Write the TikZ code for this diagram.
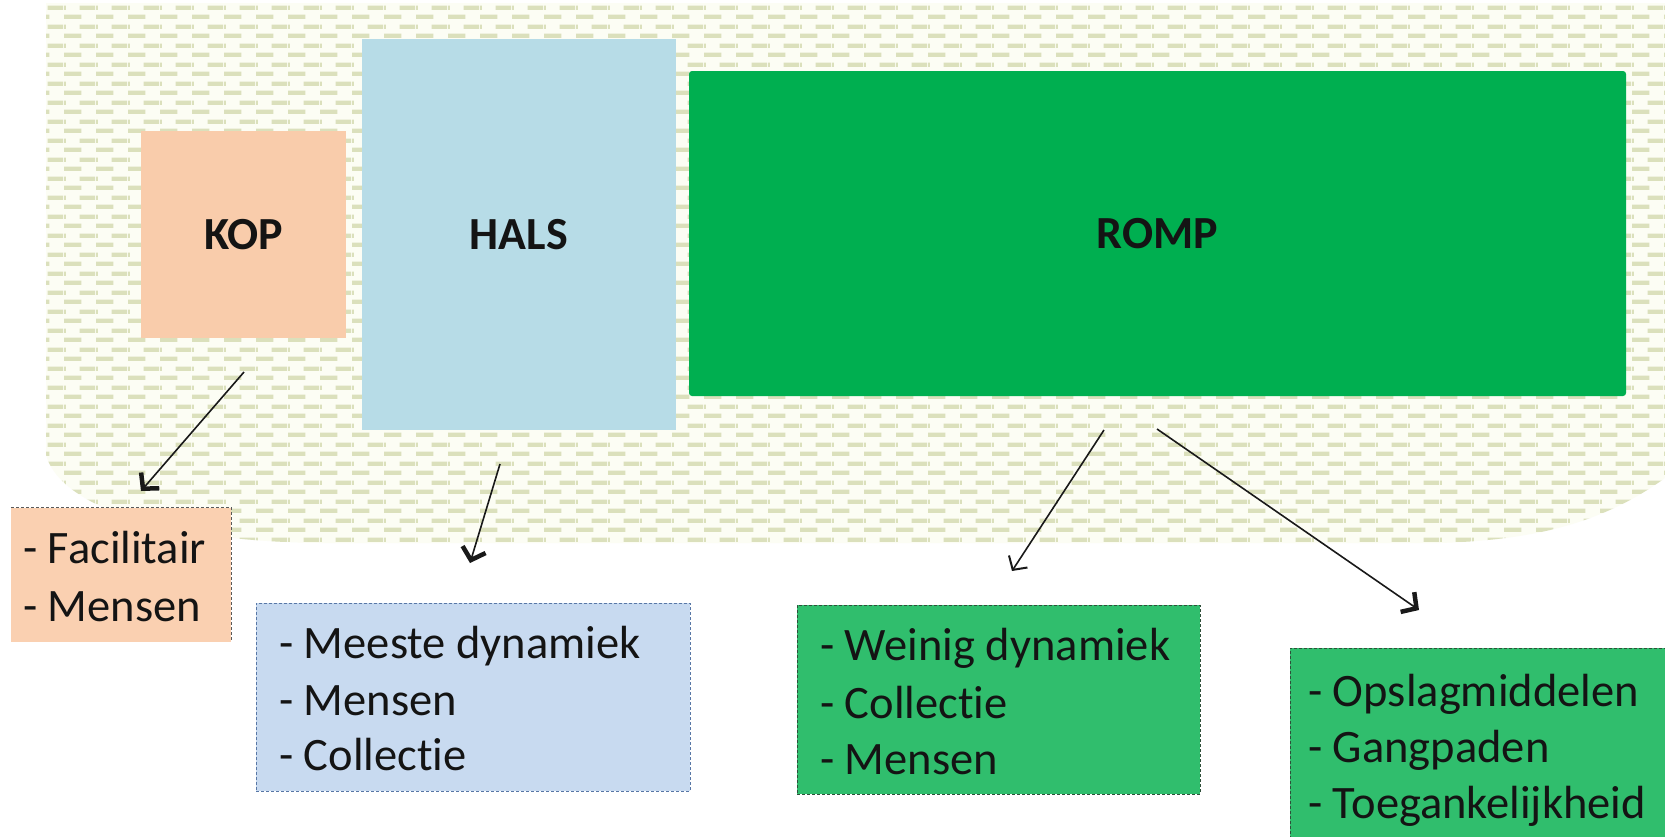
\documentclass[tikz,border=0pt]{standalone}
\usepackage{fontspec}
\setmainfont{Carlito}[Ligatures=NoCommon]
\usetikzlibrary{arrows.meta,patterns}
\pgfdeclarepatternformonly{officedash}{\pgfqpoint{0pt}{0pt}}{\pgfqpoint{32pt}{19pt}}{\pgfqpoint{32pt}{19pt}}{%
  \pgfpathrectangle{\pgfqpoint{0pt}{0pt}}{\pgfqpoint{18pt}{4.5pt}}%
  \pgfpathrectangle{\pgfqpoint{16pt}{9.5pt}}{\pgfqpoint{16pt}{4.5pt}}%
  \pgfpathrectangle{\pgfqpoint{0pt}{9.5pt}}{\pgfqpoint{2pt}{4.5pt}}%
  \pgfusepath{fill}}
\definecolor{peach}{HTML}{F9CCAB}
\definecolor{peachlt}{HTML}{FAD0B1}
\definecolor{halsblue}{HTML}{B7DCE7}
\definecolor{halsboxblue}{HTML}{C8DAF0}
\definecolor{halsborder}{HTML}{5877A6}
\definecolor{rompgreen}{HTML}{00AF50}
\definecolor{rompbox}{HTML}{30BE6D}
\definecolor{rompborder}{HTML}{2F4F3A}
\definecolor{dashcol}{HTML}{DBE0BC}
\definecolor{bgtint}{HTML}{FCFDF4}
\definecolor{txt}{HTML}{141414}
\tikzset{
  bigbox/.style={inner sep=0pt, draw=none, font=\fontsize{46}{52}\bfseries, text=txt},
  listbox/.style={inner sep=0pt, dashed, line width=0.9pt, dash pattern=on 3pt off 2pt},
  listtext/.style={inner sep=0pt, anchor=base west, font=\fontsize{46.5}{56}\selectfont, text=txt},
  conn/.style={line width=1.6pt, draw=black!90, -{Straight Barb[length=11pt,width=24pt,line width=4.5pt]}},
  thinconn/.style={line width=1.6pt, draw=black!90, -{Straight Barb[length=10pt,width=22pt,line width=2pt]}}
}
\begin{document}
\begin{tikzpicture}[x=1pt,y=-1pt]
\useasboundingbox (0,0) rectangle (1665,836);
\fill[white] (0,0) rectangle (1665,836);
% patterned background
\path[fill=bgtint] (46,3) -- (1665,3) -- (1665,478)
  .. controls (1600,525) and (1530,540) .. (1440,543) -- (320,543)
  .. controls (160,541) and (60,505) .. (46,455) -- cycle;
\path[pattern=officedash, pattern color=dashcol] (46,3) -- (1665,3) -- (1665,478)
  .. controls (1600,525) and (1530,540) .. (1440,543) -- (320,543)
  .. controls (160,541) and (60,505) .. (46,455) -- cycle;
% main boxes
\node[bigbox, fill=peach, minimum width=205pt, minimum height=207pt] (kop) at (243.5,234.5) {KOP};
\node[bigbox, fill=halsblue, minimum width=314pt, minimum height=391pt] (hals) at (519,234.5) {HALS};
\node[bigbox, fill=rompgreen, rounded corners=3pt, minimum width=937pt, minimum height=325pt] (romp) at (1157.5,233.5) {ROMP};
% list boxes
\node[inner sep=0pt, fill=peachlt, minimum width=220pt, minimum height=134pt] (facbox) at (121,575) {};
\draw[listbox, draw=gray!70!black] (facbox.north west) -- (facbox.north east) -- (facbox.south east);
\node[listbox, draw=halsborder, fill=halsboxblue, minimum width=434pt, minimum height=188pt] (halsbox) at (473,697) {};
\node[listbox, draw=rompborder, fill=rompbox, minimum width=403pt, minimum height=189pt] (romp1box) at (998.5,699.5) {};
\node[listbox, draw=rompborder, fill=rompbox, minimum width=390pt, minimum height=202pt] (romp2box) at (1485,749) {};
% list texts
\node[listtext] (f1) at (23,563) {- Facilitair};
\node[listtext] (f2) at (23,621) {- Mensen};
\node[listtext] (h1) at (279,658) {- Meeste dynamiek};
\node[listtext] (h2) at (279,715) {- Mensen};
\node[listtext] (h3) at (279,770) {- Collectie};
\node[listtext] (r1) at (820,660) {- Weinig dynamiek};
\node[listtext] (r2) at (820,718) {- Collectie};
\node[listtext] (r3) at (820,774) {- Mensen};
\node[listtext] (s1) at (1308,706) {- Opslagmiddelen};
\node[listtext] (s2) at (1308,762) {- Gangpaden};
\node[listtext] (s3) at (1308,818) {- Toegankelijkheid};
% connector ends
\coordinate (kopA) at (244,372);
\coordinate (kopB) at (141,491);
\coordinate (halsA) at (500,464);
\coordinate (halsB) at (470,563);
\coordinate (rompA) at (1104,430);
\coordinate (rompB) at (1012,571);
\coordinate (rompC) at (1157,429);
\coordinate (rompD) at (1419,610);
\draw[conn] (kopA) -- (kopB);
\draw[conn] (halsA) -- (halsB);
\draw[thinconn] (rompA) -- (rompB);
\draw[conn] (rompC) -- (rompD);
\end{tikzpicture}
\end{document}
